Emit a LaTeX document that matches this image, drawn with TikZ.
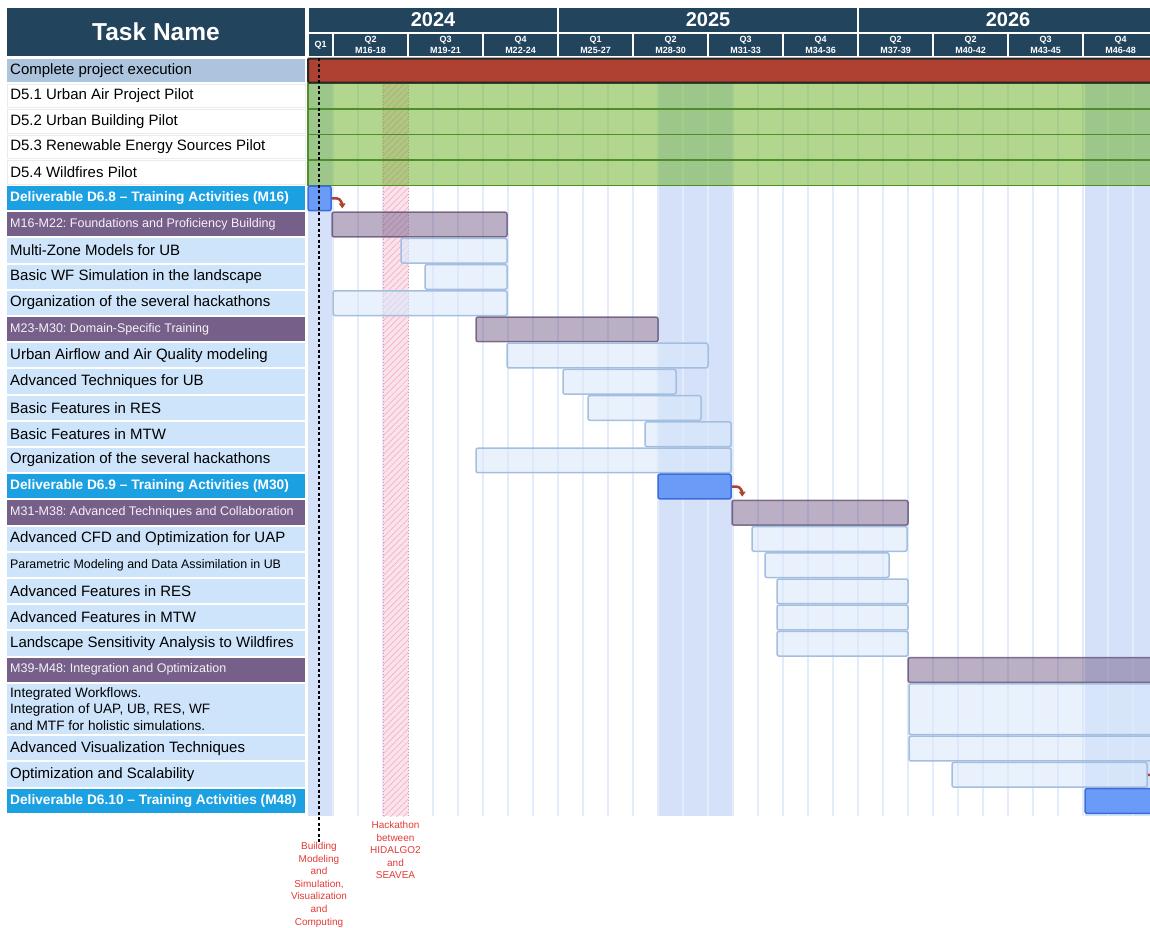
\documentclass[tikz,border=0pt]{standalone}
\usepackage{fontspec}
\setmainfont{Liberation Sans}
\usetikzlibrary{fit,patterns.meta,arrows.meta}

\definecolor{headnavy}{HTML}{23445D}
\definecolor{execblue}{HTML}{ADC4DE}
\definecolor{taskcell}{HTML}{CDE4FA}
\definecolor{delivcell}{HTML}{1BA1E2}
\definecolor{phasepurple}{HTML}{76608A}
\definecolor{colhl}{HTML}{D4E1F9}
\definecolor{gridblue}{HTML}{E2ECFB}
\definecolor{pilotgreen}{HTML}{67AD1D}
\definecolor{pilotline}{HTML}{4F8C2A}
\definecolor{execred}{HTML}{AE4132}
\definecolor{delivfill}{HTML}{6A9BF6}
\definecolor{delivedge}{HTML}{3C6BDB}
\definecolor{taskfill}{HTML}{DAE8FC}
\definecolor{taskedge}{HTML}{A4BEDF}
\definecolor{hatchpink}{HTML}{EE8FB0}
\definecolor{notered}{HTML}{E23B36}

\newcommand\fsz[2]{\fontsize{#1}{#2}\selectfont}

\begin{document}
\frenchspacing
\begin{tikzpicture}[x=1pt,y=-1pt,
  declare function={rowtop(\r)=(\r<5)*(58+25.5*\r)+(\r>=5)*(185.5+26.2*(\r-5));},
  head/.style={fill=headnavy,text=white,inner sep=0pt,align=center},
  cell/.style={anchor=west,text width=292pt,inner xsep=3pt,inner ysep=0pt,align=flush left,font=\fsz{15}{17}},
  exec/.style={fill=execblue},
  pilot/.style={fill=white,draw=black!8,line width=.5pt},
  deliv/.style={fill=delivcell,text=white,font=\bfseries\fsz{13.7}{16}},
  phase/.style={fill=phasepurple,text=white!92!phasepurple,font=\fsz{12.5}{14}},
  task/.style={fill=taskcell},
  bar/.style={inner sep=0pt,rounded corners=2pt,line width=1.5pt},
  execbar/.style={bar,fill=execred,draw=black!85,line width=2pt,rounded corners=1pt},
  pilotbar/.style={inner sep=0pt,fill=pilotgreen,fill opacity=.5,draw=pilotline,line width=1.6pt},
  delivbar/.style={bar,fill=delivfill,draw=delivedge},
  phasebar/.style={bar,fill=phasepurple,fill opacity=.5,draw=phasepurple!85!black,draw opacity=.8},
  taskbar/.style={bar,fill=taskfill,fill opacity=.6,draw=taskedge},
  linkarrow/.style={draw=execred,line width=2.5pt,-{Triangle[length=5pt,width=6.5pt]}},
  milestone/.style={draw=black,line width=1.1pt,dash pattern=on 3pt off 2.5pt},
  note/.style={text=notered,font=\fsz{10}{12.6},align=center,inner sep=0pt}]
\useasboundingbox (0,0) rectangle (1150,927);

% Header
\node[head,minimum width=298,minimum height=48,font=\bfseries\fsz{24.5}{28}] (taskhead) at (156,32) {Task Name};
\foreach \ma/\mb/\yr in {15/25/2024,25/37/2025,37/49/2026}
  \node[head,font=\bfseries\fsz{20}{24},minimum height=24,minimum width={25*(\mb-\ma)-2}]
    (y\yr) at ({308+25*((\ma+\mb)/2-15)},20) {\yr};
\foreach \ma/\mb/\lbl in {15/16/Q1,16/19/{Q2\\M16-18},19/22/{Q3\\M19-21},22/25/{Q4\\M22-24},
    25/28/{Q1\\M25-27},28/31/{Q2\\M28-30},31/34/{Q3\\M31-33},34/37/{Q4\\M34-36},
    37/40/{Q2\\M37-39},40/43/{Q2\\M40-42},43/46/{Q3\\M43-45},46/49/{Q4\\M46-48}}
  \node[head,font=\bfseries\fsz{9}{11},minimum height=22,minimum width={25*(\mb-\ma)-2}]
    (q\ma) at ({308+25*((\ma+\mb)/2-15)},45) {\lbl};

% Task names
\foreach \i/\j/\kind/\txt in {
  0/1/exec/Complete project execution,
  1/2/pilot/D5.1 Urban Air Project Pilot,
  2/3/pilot/D5.2 Urban Building Pilot,
  3/4/pilot/D5.3 Renewable Energy Sources Pilot,
  4/5/pilot/D5.4 Wildfires Pilot,
  5/6/deliv/Deliverable D6.8 – Training Activities (M16),
  6/7/phase/M16-M22: Foundations and Proficiency Building,
  7/8/task/Multi-Zone Models for UB,
  8/9/task/Basic WF Simulation in the landscape,
  9/10/task/Organization of the several hackathons,
  10/11/phase/M23-M30: Domain-Specific Training,
  11/12/task/Urban Airflow and Air Quality modeling,
  12/13/task/Advanced Techniques for UB,
  13/14/task/Basic Features in RES,
  14/15/task/Basic Features in MTW,
  15/16/task/Organization of the several hackathons,
  16/17/deliv/Deliverable D6.9 – Training Activities (M30),
  17/18/phase/M31-M38: Advanced Techniques and Collaboration,
  18/19/task/Advanced CFD and Optimization for UAP,
  19/20/task/{\fsz{12.4}{14}Parametric Modeling and Data Assimilation in UB},
  20/21/task/Advanced Features in RES,
  21/22/task/Advanced Features in MTW,
  22/23/task/Landscape Sensitivity Analysis to Wildfires,
  23/24/phase/M39-M48: Integration and Optimization,
  24/26/task/{\fsz{13.6}{16}Integrated Workflows.\\Integration of UAP, UB, RES, WF\\and MTF for holistic simulations.},
  26/27/task/Advanced Visualization Techniques,
  27/28/task/Optimization and Scalability,
  28/29/deliv/Deliverable D6.10 – Training Activities (M48)}
{
  \pgfmathsetmacro\ya{rowtop(\i)}
  \pgfmathsetmacro\yb{rowtop(\j)}
  \node[cell,\kind,minimum height=\yb-\ya-2] (t\i) at (7,{(\ya+\yb)/2-0.5}) {\txt};
}

% Highlighted months and grid
\foreach \xa/\xb in {308/332,658/733,1085/1160}
  \fill[colhl] (\xa,83) rectangle (\xb,816);
\foreach \k in {1,...,34}
  \draw[gridblue,line width=1.5pt] ({308+25*\k},83) -- ++(0,733);

% Hackathon column
\fill[hatchpink!25] (383,83) rectangle (408,816);
\path[pattern={Lines[angle=45,distance=4.5pt,line width=.7pt]},pattern color=hatchpink!70] (383,83) rectangle (408,816);
\draw[hatchpink,line width=1pt,dotted] (383,83) -- (383,816) (408,83) -- (408,816);

% Pilots
\foreach \i in {1,...,4}{
  \pgfmathsetmacro\ya{rowtop(\i)}
  \pgfmathsetmacro\yb{rowtop(\i+1)}
  \node[pilotbar,fit={(308,\ya) (1160,\yb)}] (pil\i) {};
}

% Bars
\foreach \n/\s/\i/\j/\xa/\xb in {
  exec/execbar/0/1/308/1160,
  d68/delivbar/5/6/308/331,
  m16/phasebar/6/7/332/507,
  mz/taskbar/7/8/401/507,
  wf/taskbar/8/9/425/507,
  hka/taskbar/9/10/333/507,
  m23/phasebar/10/11/476/658,
  uaq/taskbar/11/12/507/708,
  atub/taskbar/12/13/563/676,
  bres/taskbar/13/14/588/701,
  bmtw/taskbar/14/15/645/731,
  hkb/taskbar/15/16/476/731,
  d69/delivbar/16/17/658/731,
  m31/phasebar/17/18/732/908,
  cfd/taskbar/18/19/752/907,
  pmda/taskbar/19/20/765/889,
  ares/taskbar/20/21/777/908,
  amtw/taskbar/21/22/777/908,
  lsa/taskbar/22/23/777/908,
  m39/phasebar/23/24/908/1160,
  intw/taskbar/24/26/909/1160,
  avis/taskbar/26/27/909/1160,
  opt/taskbar/27/28/952/1147,
  d610/delivbar/28/29/1085/1160}
{
  \pgfmathsetmacro\ya{rowtop(\i)+0.5}
  \pgfmathsetmacro\yb{rowtop(\j)-1}
  \node[\s,fit={(\xa,\ya) (\xb,\yb)}] (\n) {};
}

% Dependencies
\draw[linkarrow] (d68.east) -- ++(5,0) .. controls +(4,0) and +(0,-4) .. ([xshift=11pt,yshift=3pt]m16.north west);
\draw[linkarrow] (d69.east) -- ++(5,0) .. controls +(4,0) and +(0,-4) .. ([xshift=11pt,yshift=3pt]m31.north west);
\draw[linkarrow] (opt.east) -- ++(5,0) .. controls +(4,0) and +(0,-4) .. ([xshift=-4pt,yshift=3pt]d610.north east);

% Notes
\coordinate (bmtop) at (319,58);
\node[note,anchor=north] (bmlbl) at (319,842) {Building\\Modeling\\and\\Simulation,\\Visualization\\and\\Computing};
\draw[milestone] (bmtop) -- (bmlbl.north);
\node[note,anchor=north] (hacklbl) at (395.5,821) {Hackathon\\between\\HIDALGO2\\and\\SEAVEA};
\end{tikzpicture}
\end{document}
